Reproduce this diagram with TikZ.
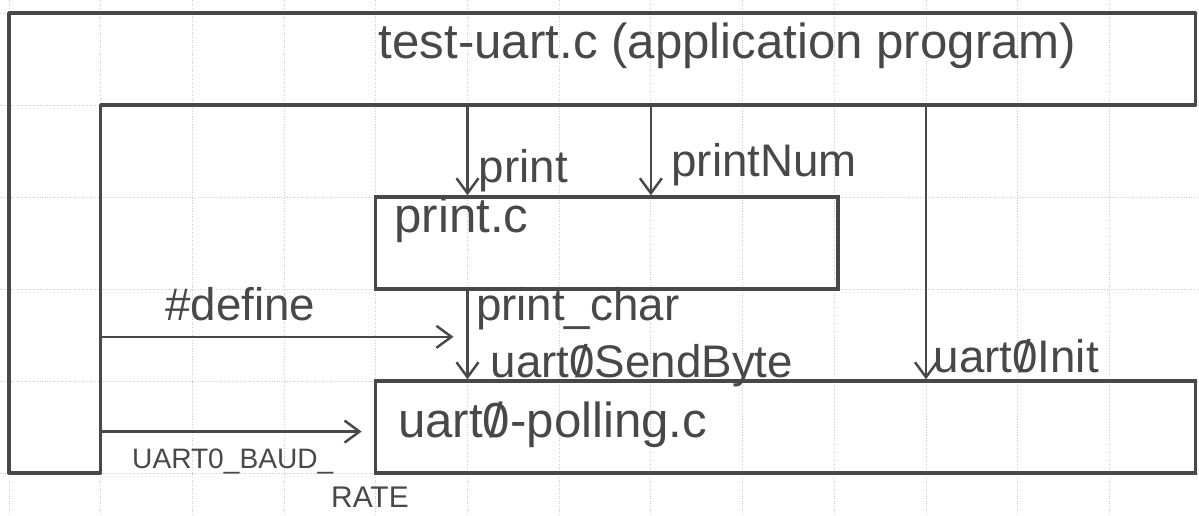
\documentclass[tikz,border=0pt]{standalone}
\usepackage{fontspec}
\setmainfont{Liberation Sans}
\usetikzlibrary{arrows.meta,fit}
\definecolor{pencil}{RGB}{72,72,72}
\definecolor{paper}{RGB}{205,205,205}
\tikzset{
    gridline/.style={paper, line width=0.5pt, densely dotted},
    module/.style={draw=pencil, line width=1.9pt, inner sep=0pt},
    call/.style={draw=pencil, line width=1.4pt, -{Straight Barb[length=0.3cm, width=0.44cm]}},
    fname/.style={text=pencil, font=\fontsize{28}{32}\selectfont, inner sep=0pt},
    fcall/.style={text=pencil, font=\fontsize{26}{30}\selectfont, inner sep=0pt},
}
\newcommand{\zr}{\ooalign{0\cr\hidewidth/\hidewidth\cr}}
\begin{document}
\begin{tikzpicture}[x=1.834cm, y=-1.84cm]
    \useasboundingbox (-0.098,-0.141) rectangle (12.977,5.457);
    \foreach \c in {0,...,13} \draw[gridline] (\c,-0.141) -- (\c,5.457);
    \foreach \r in {0,...,5} \draw[gridline] (-0.098,\r) -- (12.977,\r);

    \draw[module, line join=round] (0,0) -- (12.94,0) -- (12.94,1) -- (1,1) -- (1,5) -- (0,5) -- cycle;
    \node[fname, anchor=base west] (appname) at (4.03,0.49) {test-uart.c (application program)};

    \node[module, fit={(4,2) (9.04,3)}] (printc) {};
    \node[fname, anchor=base west] (printc-name) at (4.2,2.39) {print.c};
    \node[module, fit={(4,4) (12.94,5)}] (uartc) {};
    \node[fname, anchor=base west] (uartc-name) at (4.24,4.61) {uart\zr-polling.c};

    \coordinate (app-print) at (5,1);
    \coordinate (app-num) at (7,1);
    \coordinate (app-init) at (10,1);
    \coordinate (app-define) at (1,3.52);
    \coordinate (app-baud) at (1,4.55);

    \draw[call] (app-print) -- (app-print |- printc.north);
    \draw[call] (app-num) -- (app-num |- printc.north);
    \draw[call] (app-init) -- (app-init |- uartc.north);
    \draw[call] (printc.south -| app-print) -- (uartc.north -| app-print);
    \draw[call, shorten >=0.28cm] (app-define) -- (app-define -| app-print);
    \draw[call, shorten >=0.25cm] (app-baud) -- (app-baud -| uartc.west);

    \node[fcall, anchor=base west] (l-print) at (5.12,1.84) {print};
    \node[fcall, anchor=base west] (l-num) at (7.22,1.78) {printNum};
    \node[fcall, anchor=base west] (l-init) at (10.08,3.91) {uart\zr Init};
    \node[fcall, anchor=base west] (l-char) at (5.09,3.34) {print\_char};
    \node[fcall, anchor=base west] (l-send) at (5.25,3.96) {uart\zr SendByte};
    \node[fcall, anchor=base west] (l-define) at (1.70,3.34) {\#define};
    \node[fcall, font=\fontsize{16}{18}\selectfont, anchor=base west] (l-baud) at (1.34,4.95) {UART0\_BAUD\_};
    \node[fcall, font=\fontsize{17}{20}\selectfont, anchor=base west] (l-rate) at (3.51,5.38) {RATE};
\end{tikzpicture}
\end{document}
